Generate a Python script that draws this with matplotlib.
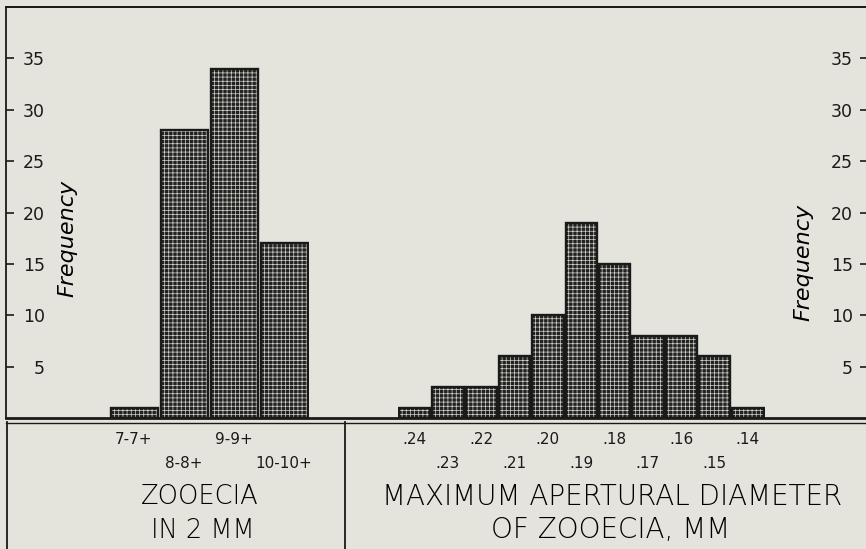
import matplotlib
matplotlib.use("Agg")
import matplotlib.pyplot as plt
from matplotlib.lines import Line2D

# ---------------- data ----------------
zooecia_labels = ["7-7+", "8-8+", "9-9+", "10-10+"]
zooecia_freq = [1, 28, 34, 17]

aperture_labels = [".24", ".23", ".22", ".21", ".20", ".19", ".18", ".17", ".16", ".15", ".14"]
aperture_freq = [1, 3, 3, 6, 10, 19, 15, 8, 8, 6, 1]

yticks = [5, 10, 15, 20, 25, 30, 35]
ytick_labels = ["5", "10", "15", "20", "25", "30", "35"]

# ---------------- style ----------------
BG = "#e5e4dc"
INK = "#1a1a1a"
FONT = "DejaVu Sans"
LIGHT = "light"
plt.rcParams["font.family"] = [FONT]
plt.rcParams["hatch.linewidth"] = 0.5

W, H = 866, 549
fig = plt.figure(figsize=(W / 100, H / 100), dpi=100)
fig.patch.set_facecolor(BG)


def fx(px):
    return px / W


def fy(py):
    return 1 - py / H


base_y = 418
top_y = 7
ax_bottom = fy(base_y)
ax_height = (base_y - top_y) / H

# main frame axes (left border, top border, baseline, left ticks)
ax = fig.add_axes([fx(6), ax_bottom, fx(870 - 6), ax_height])
ax.set_facecolor("none")
ax.set_xlim(0, 1)
ax.set_ylim(0, 40)
ax.set_xticks([])
ax.spines["right"].set_visible(False)
for s in ["left", "top"]:
    ax.spines[s].set_linewidth(1.3)
    ax.spines[s].set_color(INK)
ax.spines["bottom"].set_linewidth(2.0)
ax.spines["bottom"].set_color(INK)
ax.set_yticks(yticks, labels=ytick_labels)
ax.tick_params(axis="y", direction="in", length=6, width=1.2, color=INK,
               pad=-28, labelsize=12.5, labelcolor=INK)

# right-hand ticks
ax2 = ax.twinx()
ax2.set_ylim(0, 40)
for s in ax2.spines.values():
    s.set_visible(False)
ax2.set_yticks(yticks, labels=ytick_labels, ha="right")
ax2.tick_params(axis="y", direction="in", length=7.5, width=1.2, color=INK,
                pad=-12.2, labelsize=12.5, labelcolor=INK)

# Frequency labels
fig.text(fx(67), fy(238), "Frequency", rotation=90, style="italic",
         fontsize=16, color="black", ha="center", va="center", fontweight=LIGHT)
fig.text(fx(803), fy(262), "Frequency", rotation=90, style="italic",
         fontsize=16, color="black", ha="center", va="center", fontweight=LIGHT)


def histogram(left_px, right_px, labels, values):
    hax = fig.add_axes([fx(left_px), ax_bottom, fx(right_px - left_px), ax_height])
    hax.set_facecolor("none")
    for s in hax.spines.values():
        s.set_visible(False)
    n = len(values)
    xs = list(range(n))
    hax.bar(xs, values, width=0.94, color="#222222", edgecolor="#d4d4cc",
            hatch="++++", linewidth=0, zorder=2)
    hax.bar(xs, values, width=0.94, fill=False, edgecolor=INK,
            linewidth=1.7, zorder=3)
    hax.set_xlim(-0.5, n - 0.5)
    hax.set_ylim(0, 40)
    hax.set_yticks([])
    even = [i for i in xs if i % 2 == 0]
    odd = [i for i in xs if i % 2 == 1]
    hax.set_xticks(even, labels=[labels[i] for i in even])
    hax.set_xticks(odd, labels=[labels[i] for i in odd], minor=True)
    hax.tick_params(axis="x", which="major", length=0, pad=10, labelsize=11,
                    labelcolor=INK)
    hax.tick_params(axis="x", which="minor", length=0, pad=27, labelsize=11,
                    labelcolor=INK)
    return hax


histogram(109, 309, zooecia_labels, zooecia_freq)
histogram(398, 764.5, aperture_labels, aperture_freq)

# lower frame lines
fig.add_artist(Line2D([fx(6), 1], [fy(422.5), fy(422.5)], color=INK, lw=1.0))
fig.add_artist(Line2D([fx(6), 1], [fy(top_y), fy(top_y)], color=INK, lw=1.3))
fig.add_artist(Line2D([fx(6.5), fx(6.5)], [fy(422), 0], color=INK, lw=1.3))
fig.add_artist(Line2D([fx(345), fx(345)], [fy(422), 0], color=INK, lw=1.3))

# axis titles
TS = 18.5
fig.text(fx(200), fy(497), "ZOOECIA", fontsize=TS, color="black", ha="center",
         va="center", fontweight=LIGHT)
fig.text(fx(203), fy(530), "IN 2 MM", fontsize=TS, color="black", ha="center",
         va="center", fontweight=LIGHT)
fig.text(fx(612), fy(497), "MAXIMUM APERTURAL DIAMETER", fontsize=20, color="black",
         ha="center", va="center", fontweight=LIGHT)
fig.text(fx(611), fy(530), "OF ZOOECIA, MM", fontsize=20, color="black",
         ha="center", va="center", fontweight=LIGHT)

fig.savefig("out.png", dpi=100, facecolor=BG)
